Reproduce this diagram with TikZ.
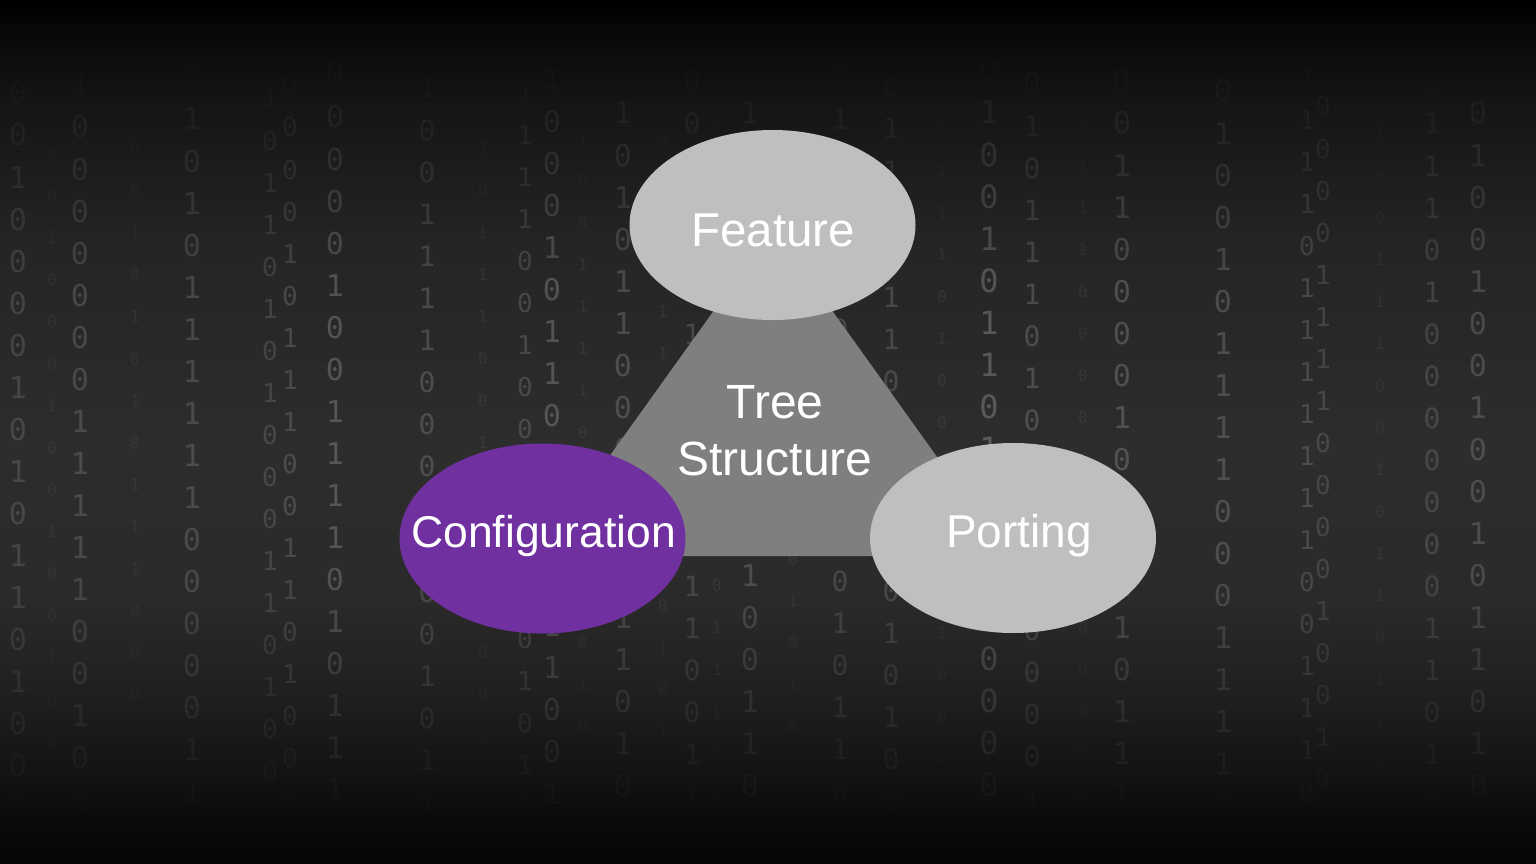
\documentclass[tikz,border=0pt]{standalone}
\usepackage{fontspec}
\setmainfont{Liberation Sans}
\newfontfamily\digitfont{DejaVu Sans Mono}
\usetikzlibrary{shapes.geometric}
\definecolor{lightgr}{HTML}{BFBFBF}
\definecolor{midgr}{HTML}{7F7F7F}
\definecolor{purp}{HTML}{7030A0}
\definecolor{g0}{gray}{0.0}
\definecolor{g1}{gray}{0.03}
\definecolor{g2}{gray}{0.08}
\definecolor{g3}{gray}{0.145}
\definecolor{g4}{gray}{0.176}
\definecolor{g5}{gray}{0.165}
\definecolor{g6}{gray}{0.12}
\definecolor{g7}{gray}{0.07}
\definecolor{g8}{gray}{0.035}
\definecolor{g9}{gray}{0.02}
\pgfdeclareverticalshading{bgshade}{100bp}{color(0bp)=(g9); color(25bp)=(g9); color(27bp)=(g8); color(29.9bp)=(g7); color(34.5bp)=(g6); color(40.3bp)=(g5); color(49bp)=(g4); color(60.5bp)=(g3); color(69.2bp)=(g2); color(73.3bp)=(g1); color(75bp)=(g0); color(100bp)=(g0)}
\tikzset{
  blob/.style={ellipse, minimum width=286pt, minimum height=190pt, inner sep=0pt, draw=none},
  lbl/.style={text=white, anchor=base, inner sep=0pt},
  digit/.style={text=white, inner sep=0pt, anchor=base}
}
\begin{document}
\begin{tikzpicture}[x=1pt,y=-1pt]
\useasboundingbox (0,0) rectangle (1536,864);
\shade[shading=bgshade] (0,0) rectangle (1536,864);
% binary background
\pgfmathsetseed{4242}
\foreach \cx/\fs/\op/\yo [count=\ci] in {
  18/30/0.13/22, 52/16/0.05/35, 80/30/0.15/14, 135/16/0.05/30, 192/30/0.15/6,
  270/26/0.13/26, 290/26/0.15/13, 335/30/0.2/4, 427/28/0.16/16, 483/16/0.06/30,
  525/26/0.15/20, 552/30/0.2/8, 583/16/0.06/20, 623/30/0.17/0, 663/16/0.06/25,
  692/28/0.15/10, 717/16/0.07/5, 750/30/0.17/0, 793/16/0.06/20, 840/28/0.15/5,
  891/28/0.15/15, 942/16/0.06/10, 989/32/0.22/0, 1032/28/0.17/12, 1083/16/0.06/5,
  1122/30/0.18/10, 1223/30/0.17/20, 1307/26/0.15/5, 1323/26/0.13/-8, 1380/16/0.05/15,
  1432/28/0.13/10, 1478/30/0.16/0}
{
  \foreach \r in {0,...,18}{
    \pgfmathsetmacro\yy{\yo+42*\r+40}
    \pgfmathsetmacro\fa{min(1,max(0,(\yy-70)/230))*min(1,max(0,(830-\yy)/260))}
    \pgfmathsetmacro\oo{\op*\fa}
    \pgfmathtruncatemacro\dd{random(0,1)}
    \node[digit, opacity=\oo, font=\digitfont\fontsize{\fs}{\fs}\selectfont] (d\ci-\r) at (\cx,\yy) {\dd};
  }
}
% triangle
\coordinate (tA) at (773,228);
\coordinate (tB) at (538,556);
\coordinate (tC) at (1008,556);
\fill[midgr] (tA) -- (tB) -- (tC) -- cycle;
\node[lbl, font=\fontsize{48}{57}\selectfont] (tree) at (775,418) {Tree};
\node[lbl, font=\fontsize{48}{57}\selectfont] (struct) at (775,475) {Structure};
% ellipses
\node[blob, fill=lightgr] (feature) at (772.5,225) {};
\node[blob, fill=purp] (config) at (542.5,538.5) {};
\node[blob, fill=lightgr] (porting) at (1013,538) {};
\node[lbl, font=\fontsize{47.5}{57}\selectfont] (featuretxt) at (773,246) {Feature};
\node[lbl, font=\fontsize{44.5}{57}\selectfont] (configtxt) at (543.5,547) {Configuration};
\node[lbl, font=\fontsize{46}{57}\selectfont] (portingtxt) at (1019,547) {Porting};
\end{tikzpicture}
\end{document}
